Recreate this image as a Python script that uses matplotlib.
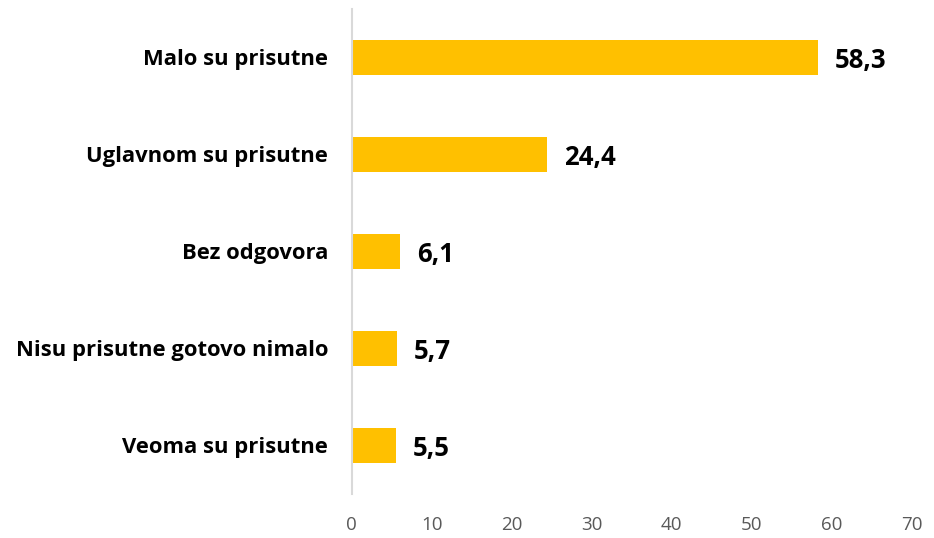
import matplotlib.pyplot as plt

# Datos
categorias = ["Malo su prisutne", "Uglavnom su prisutne", "Bez odgovora",
              "Nisu prisutne gotovo nimalo", "Veoma su prisutne"]
valores = [58.3, 24.4, 6.1, 5.7, 5.5]
etiquetas = ["58,3", "24,4", "6,1", "5,7", "5,5"]
ticks_x = [0, 10, 20, 30, 40, 50, 60, 70]

plt.rcParams['font.family'] = ['Open Sans', 'DejaVu Sans']

fig = plt.figure(figsize=(9.34, 5.38), dpi=100)
ax = fig.add_axes([0.3765, 0.0818, 0.5996, 0.9015])

pos = list(range(len(categorias)))
ax.barh(pos, valores, height=0.36, color="#FFC000")
ax.set_ylim(len(categorias) - 0.5, -0.5)
ax.set_xlim(0, 70)

# Etiquetas de valor junto a cada barra (un poco por debajo del centro)
for p, v, t in zip(pos, valores, etiquetas):
    ax.text(v + 2.1, p + 0.03, t, va="center", ha="left", fontsize=18.5,
            fontweight="bold", color="black")

ax.set_yticks(pos)
ax.set_yticklabels(categorias, fontsize=15.8, fontweight="bold")
ax.set_xticks(ticks_x)
ax.set_xticklabels([str(t) for t in ticks_x], fontsize=13.5, color="#595959")
ax.tick_params(axis="y", length=0, pad=17)
ax.tick_params(axis="x", length=0, pad=16)

for lado in ["top", "right", "bottom"]:
    ax.spines[lado].set_visible(False)
ax.spines["left"].set_color("#D9D9D9")
ax.spines["left"].set_linewidth(1.5)

fig.savefig("out.png", dpi=100)
plt.close()
